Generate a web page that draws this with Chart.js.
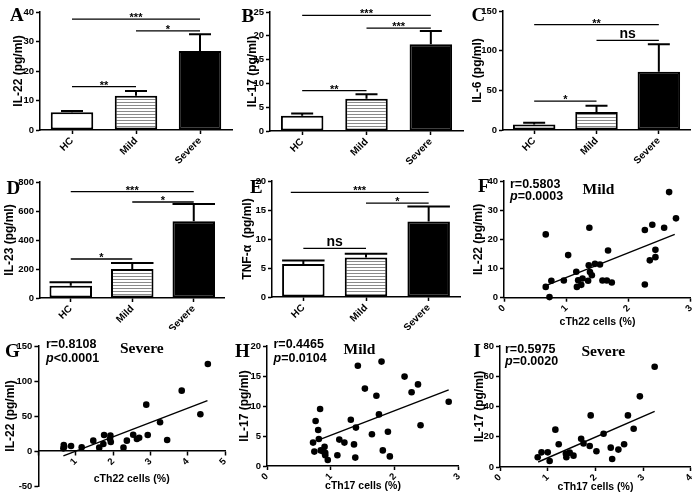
<!DOCTYPE html>
<html><head><meta charset="utf-8">
<script src="https://cdn.jsdelivr.net/npm/chart.js@4.4.1/dist/chart.umd.min.js"></script>
<style>
html,body{margin:0;padding:0;background:#fff;}
#wrap{position:relative;width:700px;height:497px;overflow:hidden;background:#fff;}
canvas{position:absolute;}
.lbl{position:absolute;white-space:nowrap;line-height:1;color:#000;}
</style></head><body><div id="wrap"></div>
<script>
// ---------- data ----------
const groups = ['HC', 'Mild', 'Severe'];

const il22Mean = [6.0, 11.6, 26.8];
const il22Sem  = [0.4, 1.6, 5.7];
const il17Mean = [3.2, 6.8, 18.2];
const il17Sem  = [0.5, 0.9, 2.8];
const il6Mean  = [7.0, 22.6, 73.3];
const il6Sem   = [2.0, 8.0, 34.7];
const il23Mean = [85, 200, 529];
const il23Sem  = [23, 41, 119];
const tnfMean  = [5.7, 6.8, 13.0];
const tnfSem   = [0.6, 0.65, 2.6];

// significance brackets: [from group, to group, level, label]
const sigA = [[0, 1, 14.7, '**'], [1, 2, 33.6, '*'], [0, 2, 37.6, '***']];
const sigB = [[0, 1, 8.5, '**'], [1, 2, 21.6, '***'], [0, 2, 24.3, '***']];
const sigC = [[0, 1, 36.4, '*'], [1, 2, 113, 'ns'], [0, 2, 132.8, '**']];
const sigD = [[0, 1, 269, '*'], [1, 2, 662, '*'], [0, 2, 733, '***']];
const sigE = [[0, 1, 8.4, 'ns'], [1, 2, 16.2, '*'], [-0.2, 2, 18.05, '***']];

// correlation scatter data
const th22Mild = [0.67,0.67,0.73,0.76,0.96,1.03,1.16,1.17,1.19,1.24,1.26,1.35,1.36,1.37,1.38,1.41,1.46,1.54,1.58,1.65,1.67,1.73,2.26,2.26,2.34,2.38,2.43,2.43,2.57,2.65,2.76];
const il22Mild = [21.7,3.7,0.2,5.8,5.9,14.6,8.9,3.7,6.0,4.4,6.6,5.8,11.1,24.0,8.8,7.7,11.6,11.4,5.9,5.9,16.2,5.2,4.5,23.2,12.8,25.0,16.4,13.9,24.0,36.2,27.2];
const fitFx = [0.65, 2.74];
const fitFy = [4.0, 21.7];

const th22Severe = [0.67,0.68,0.69,0.875,1.16,1.47,1.63,1.74,1.76,1.92,1.93,1.94,2.28,2.37,2.54,2.64,2.70,2.89,2.93,3.26,3.45,3.84,4.34,4.54];
const il22Severe = [3.8,8.6,6.2,7.1,5.2,14.8,4.8,10,22.9,17.1,21.9,12.9,4.8,14.8,23.3,17.1,19.0,66.2,22.9,41.0,15.7,86.2,52.4,124.3];
const fitGx = [0.67, 4.53];
const fitGy = [-7.1, 71.9];

const th17Mild = [0.72,0.74,0.76,0.80,0.81,0.83,0.84,0.88,0.90,0.91,0.91,0.95,1.10,1.13,1.21,1.31,1.36,1.38,1.39,1.42,1.53,1.64,1.71,1.75,1.79,1.81,1.89,1.92,2.15,2.26,2.36,2.40,2.84];
const il17Mild = [3.9,2.4,7.5,6.0,4.5,9.5,2.6,2.4,3.2,2.2,1.8,1.0,1.8,4.4,3.9,7.7,3.6,1.4,6.4,16.7,12.9,5.3,11.7,8.6,17.4,2.6,5.7,1.6,14.9,12.3,13.6,6.8,10.7];
const fitHx = [0.80, 2.84];
const fitHy = [4.3, 12.7];

const th17Severe = [0.79,0.87,1.00,1.04,1.16,1.23,1.38,1.39,1.46,1.54,1.70,1.75,1.88,1.90,2.02,2.17,2.32,2.35,2.48,2.60,2.68,2.80,2.93,3.24];
const il17Severe = [6.4,9.7,9.7,4.0,24.7,15.0,8.8,6.4,9.5,7.5,18.7,15.6,13.9,34.1,10.4,22.0,12.8,5.3,11.5,15.0,34.1,25.3,46.7,66.3];
const fitIx = [0.80, 3.24];
const fitIy = [3.3, 36.8];

// ---------- rendering ----------
Chart.defaults.font.family = '"Liberation Sans", Arial, sans-serif';
Chart.defaults.font.weight = 'bold';
Chart.defaults.color = '#000';
const wrap = document.getElementById('wrap');

function addCanvas(b) {
  const c = document.createElement('canvas');
  c.width = b.w; c.height = b.h;
  c.style.left = b.l + 'px'; c.style.top = b.t + 'px';
  c.style.width = b.w + 'px'; c.style.height = b.h + 'px';
  wrap.appendChild(c);
  return c;
}

function addText(html, x, baseline, size, serif) {
  const s = document.createElement('div');
  s.className = 'lbl';
  s.innerHTML = html;
  const k = serif ? 0.8375 : 0.8465;
  s.style.left = x + 'px';
  s.style.top = (baseline - size * k) + 'px';
  s.style.fontSize = size + 'px';
  s.style.fontWeight = 'bold';
  s.style.fontFamily = serif ? '"Liberation Serif", "Times New Roman", serif' : '"Liberation Sans", Arial, sans-serif';
  wrap.appendChild(s);
}

function stripe(ctx) {
  const c = document.createElement('canvas');
  c.width = 4; c.height = 3;
  const g = c.getContext('2d');
  g.fillStyle = '#fff'; g.fillRect(0, 0, 4, 3);
  g.fillStyle = '#8a8a8a'; g.fillRect(0, 0, 4, 1);
  return ctx.createPattern(c, 'repeat');
}

function layoutOf(p) {
  const b = p.box, a = p.area;
  const padLeft = p.tx - 7.2 - b.l;
  const yW = a.l - b.l - padLeft;
  const padTop = a.t - b.t;
  const padRight = b.l + b.w - a.r;
  let padBottom, xH;
  if (p.zeroPix !== undefined) {
    padBottom = b.t + b.h - a.b;
    xH = p.xTitleY + 6.3 - p.zeroPix;
  } else if (p.xTitleY !== undefined) {
    const axisBottom = p.xTitleY + 6.3;
    padBottom = b.t + b.h - axisBottom;
    xH = axisBottom - a.b;
  } else {
    padBottom = 0;
    xH = b.t + b.h - a.b;
  }
  return {padLeft, yW, padTop, padRight, padBottom, xH};
}

const axisBorder = {display: true, color: '#000', width: 1.5};
const tickGrid = {display: true, drawOnChartArea: false, drawTicks: true, tickLength: 4, tickWidth: 1.5, tickColor: '#000', color: '#000'};

function barExtras(means, sems, sigs, capW) {
  return {
    id: 'barExtras',
    afterDatasetsDraw(chart) {
      const {ctx, scales: {x, y}} = chart;
      const meta = chart.getDatasetMeta(0);
      ctx.save();
      ctx.strokeStyle = '#000';
      ctx.fillStyle = '#000';
      ctx.lineWidth = 2;
      means.forEach((m, i) => {
        const bar = meta.data[i];
        const cx = bar.x;
        const y0 = y.getPixelForValue(m);
        const y1 = y.getPixelForValue(m + sems[i]);
        const w = capW === 'bar' ? bar.width : capW;
        ctx.beginPath();
        ctx.moveTo(cx, y0); ctx.lineTo(cx, y1);
        ctx.moveTo(cx - w / 2, y1); ctx.lineTo(cx + w / 2, y1);
        ctx.stroke();
      });
      ctx.lineWidth = 1.3;
      ctx.textAlign = 'center';
      ctx.textBaseline = 'alphabetic';
      sigs.forEach(([a, b, v, t]) => {
        const xa = x.getPixelForValue(a), xb = x.getPixelForValue(b), yy = y.getPixelForValue(v);
        ctx.beginPath(); ctx.moveTo(xa, yy); ctx.lineTo(xb, yy); ctx.stroke();
        if (t === 'ns') {
          ctx.font = 'bold 14px "Liberation Sans", Arial, sans-serif';
          ctx.fillText(t, (xa + xb) / 2, yy - 2.5);
        } else {
          ctx.font = 'bold 11px "Liberation Sans", Arial, sans-serif';
          ctx.fillText(t, (xa + xb) / 2, yy + 2);
        }
      });
      ctx.restore();
    }
  };
}

function barChart(p) {
  const cv = addCanvas(p.box);
  const ctx = cv.getContext('2d');
  const L = layoutOf(p);
  const catW = (p.area.r - p.area.l) / 3;
  return new Chart(cv, {
    type: 'bar',
    data: {labels: groups, datasets: [{
      data: p.means,
      backgroundColor: ['#ffffff', stripe(ctx), '#000000'],
      borderColor: '#000', borderWidth: 2, borderSkipped: false,
      categoryPercentage: 1, barPercentage: 42.5 / catW
    }]},
    options: {
      responsive: false, animation: false, devicePixelRatio: 1,
      events: [],
      layout: {padding: {left: L.padLeft, top: L.padTop, right: L.padRight, bottom: L.padBottom}},
      plugins: {legend: {display: false}, tooltip: {enabled: false}},
      scales: {
        x: {
          grid: Object.assign({}, tickGrid, {offset: false}),
          border: axisBorder,
          ticks: {color: '#000', font: {size: 10, weight: 'bold'}, maxRotation: 45, minRotation: 45, padding: 1, autoSkip: false},
          afterFit(s) { s.height = L.xH; }
        },
        y: {
          min: 0, max: p.yMax,
          grid: tickGrid, border: axisBorder,
          ticks: {stepSize: p.step, color: '#000', font: {size: 9.5, weight: 'bold'}, padding: 2},
          title: {display: true, text: p.yTitle, color: '#000', font: {size: 12, weight: 'bold'}, padding: 0},
          afterFit(s) { s.width = L.yW; }
        }
      }
    },
    plugins: [barExtras(p.means, p.sems, p.sigs, p.capW)]
  });
}

function scatterChart(p) {
  const cv = addCanvas(p.box);
  const L = layoutOf(p);
  return new Chart(cv, {
    type: 'scatter',
    data: {datasets: [
      {data: p.xs.map((x, i) => ({x: x, y: p.ys[i]})), pointRadius: 3.3, pointBackgroundColor: '#000', pointBorderWidth: 0, clip: false},
      {type: 'line', data: p.fx.map((x, i) => ({x: x, y: p.fy[i]})), borderColor: '#000', borderWidth: 1.4, pointRadius: 0, fill: false, clip: false}
    ]},
    options: {
      responsive: false, animation: false, devicePixelRatio: 1,
      events: [],
      layout: {padding: {left: L.padLeft, top: L.padTop, right: L.padRight, bottom: L.padBottom}},
      plugins: {legend: {display: false}, tooltip: {enabled: false}},
      scales: {
        x: {
          type: 'linear', min: 0, max: p.xMax,
          position: p.zeroPix !== undefined ? {y: 0} : 'bottom',
          grid: tickGrid, border: axisBorder,
          ticks: {stepSize: 1, color: '#000', font: {size: 9.5, weight: 'bold'}, maxRotation: 45, minRotation: 45, padding: 1, autoSkip: false,
                  callback: (v) => (p.hideZero && v === 0) ? '' : v},
          title: {display: true, text: p.xTitle, color: '#000', font: {size: 10.5, weight: 'bold'}, padding: 0},
          afterFit(s) { s.height = L.xH; }
        },
        y: {
          min: p.yMin, max: p.yMax,
          grid: tickGrid, border: axisBorder,
          ticks: {stepSize: p.step, color: '#000', font: {size: 9.5, weight: 'bold'}, padding: 2},
          title: {display: true, text: p.yTitle, color: '#000', font: {size: 12, weight: 'bold'}, padding: 0},
          afterFit(s) { s.width = L.yW; }
        }
      }
    }
  });
}

// ----- bar panels -----
barChart({box: {l: 0, t: 0, w: 240, h: 165}, area: {l: 40, t: 12, r: 232, b: 130}, tx: 18.7,
  means: il22Mean, sems: il22Sem, sigs: sigA, yMax: 40, step: 10, yTitle: 'IL-22 (pg/ml)', capW: 22});
barChart({box: {l: 232, t: 0, w: 236, h: 165}, area: {l: 270, t: 12, r: 463, b: 131}, tx: 253,
  means: il17Mean, sems: il17Sem, sigs: sigB, yMax: 25, step: 5, yTitle: 'IL-17 (pg/ml)', capW: 22});
barChart({box: {l: 465, t: 0, w: 235, h: 165}, area: {l: 503, t: 11, r: 690, b: 130}, tx: 478,
  means: il6Mean, sems: il6Sem, sigs: sigC, yMax: 150, step: 50, yTitle: 'IL-6 (pg/ml)', capW: 22});
barChart({box: {l: 0, t: 165, w: 240, h: 165}, area: {l: 40, t: 182, r: 224.5, b: 298}, tx: 10,
  means: il23Mean, sems: il23Sem, sigs: sigD, yMax: 800, step: 200, yTitle: 'IL-23 (pg/ml)', capW: 'bar'});
barChart({box: {l: 232, t: 165, w: 236, h: 165}, area: {l: 272, t: 181, r: 460, b: 297}, tx: 248,
  means: tnfMean, sems: tnfSem, sigs: sigE, yMax: 20, step: 5, yTitle: 'TNF-\u03b1  (pg/ml)', capW: 'bar'});

// ----- scatter panels -----
scatterChart({box: {l: 465, t: 165, w: 235, h: 165}, area: {l: 504, t: 181, r: 691.7, b: 297.7}, tx: 478.5, xTitleY: 322,
  xs: th22Mild, ys: il22Mild, fx: fitFx, fy: fitFy, xMax: 3, yMin: 0, yMax: 40, step: 10,
  yTitle: 'IL-22 (pg/ml)', xTitle: 'cTh22 cells (%)'});
scatterChart({box: {l: 0, t: 330, w: 240, h: 167}, area: {l: 38.4, t: 346, r: 225, b: 486}, tx: 11, xTitleY: 479, zeroPix: 451, hideZero: true,
  xs: th22Severe, ys: il22Severe, fx: fitGx, fy: fitGy, xMax: 5, yMin: -50, yMax: 150, step: 50,
  yTitle: 'IL-22 (pg/ml)', xTitle: 'cTh22 cells (%)'});
scatterChart({box: {l: 232, t: 330, w: 236, h: 167}, area: {l: 267, t: 346, r: 461, b: 466}, tx: 245, xTitleY: 486,
  xs: th17Mild, ys: il17Mild, fx: fitHx, fy: fitHy, xMax: 3, yMin: 0, yMax: 20, step: 5,
  yTitle: 'IL-17 (pg/ml)', xTitle: 'cTh17 cells (%)'});
scatterChart({box: {l: 465, t: 330, w: 235, h: 167}, area: {l: 500, t: 346, r: 692, b: 467}, tx: 480, xTitleY: 487,
  xs: th17Severe, ys: il17Severe, fx: fitIx, fy: fitIy, xMax: 4, yMin: 0, yMax: 80, step: 20,
  yTitle: 'IL-17 (pg/ml)', xTitle: 'cTh17 cells (%)'});

// ----- panel letters -----
addText('A', 10, 20.5, 19, true);
addText('B', 241.5, 21.5, 19, true);
addText('C', 471.5, 21, 19, true);
addText('D', 6.5, 193.5, 19, true);
addText('E', 250, 192.5, 19, true);
addText('F', 478, 192, 19, true);
addText('G', 5, 357, 19, true);
addText('H', 235, 357, 19, true);
addText('I', 473.5, 357, 19, true);

// ----- correlation annotations -----
addText('r=0.5803', 510, 189, 12.5, false);
addText('<i>p</i>=0.0003', 510, 200.5, 12.5, false);
addText('Mild', 582.5, 193.5, 15.5, true);

addText('r=0.8108', 46, 349, 12.5, false);
addText('<i>p</i>&lt;0.0001', 46, 362.5, 12.5, false);
addText('Severe', 120, 353, 15.5, true);

addText('r=0.4465', 273.5, 348.5, 12.5, false);
addText('<i>p</i>=0.0104', 273.5, 362.5, 12.5, false);
addText('Mild', 343.5, 354, 15.5, true);

addText('r=0.5975', 505, 353.5, 12.5, false);
addText('<i>p</i>=0.0020', 505, 365.5, 12.5, false);
addText('Severe', 581.5, 356, 15.5, true);
</script>
</body></html>
